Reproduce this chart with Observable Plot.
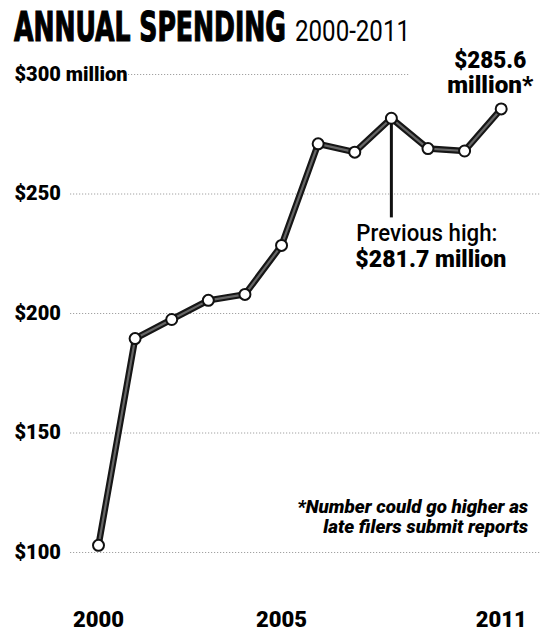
<!DOCTYPE html>
<html>
<head>
<meta charset="utf-8">
<script src="https://cdn.jsdelivr.net/npm/d3@7"></script>
<script src="https://cdn.jsdelivr.net/npm/@observablehq/plot@0.6"></script>
<style>
  html, body { margin: 0; padding: 0; background: white; }
  #header { position: relative; width: 541px; height: 50px; }
  #header span { position: absolute; white-space: nowrap; line-height: 1; transform-origin: 0 0; color: black; }
  #t1 { left: 14px; top: 7px; font-family: "DejaVu Sans Condensed", "DejaVu Sans", sans-serif; font-weight: 900; font-size: 41px; -webkit-text-stroke: 1.2px black; }
  #t2 { left: 295px; top: 17px; font-family: Roboto, "Noto Sans", sans-serif; font-weight: 400; font-size: 29px; }
</style>
</head>
<body>
<div id="header"><span id="t1">ANNUAL SPENDING</span><span id="t2">2000-2011</span></div>
<div id="chart"></div>
<script>
const years = [2000, 2001, 2002, 2003, 2004, 2005, 2006, 2007, 2008, 2009, 2010, 2011];
const spending = [103, 189.5, 197.5, 205.5, 208, 228.5, 271, 267.5, 281.7, 269, 268, 285.6];
const yTicks = [100, 150, 200, 250, 300];
const xTicks = [2000, 2005, 2011];
const highYear = 2008;
const highValue = 281.7;
const leaderEnd = 240;
const latestLabel = ["$285.6", "million*"];
const highLabel = ["Previous high:", "$281.7 million"];
const footnote = ["*Number could go higher as", "late filers submit reports"];

const data = years.map((year, i) => ({year, value: spending[i]}));
const latest = [data[data.length - 1]];
const high = [{year: highYear, value: highValue, end: leaderEnd}];

const fmtY = d => d === 300 ? "$300 million" : "$" + d;

const chart = Plot.plot({
  width: 541,
  height: 583,
  marginTop: 24,
  marginBottom: 81,
  marginLeft: 98,
  marginRight: 40.3,
  x: {domain: [2000, 2011]},
  y: {domain: [100, 300]},
  style: {fontFamily: "Roboto, 'Noto Sans', sans-serif", background: "white", color: "black", overflow: "visible"},
  marks: [
    Plot.ruleY(yTicks.filter(d => d < 300), {stroke: "#8a8a8a", strokeWidth: 0.8, strokeDasharray: "1.2,1.8", insetLeft: -28, insetRight: -41}),
    Plot.ruleY(yTicks.filter(d => d === 300), {stroke: "#8a8a8a", strokeWidth: 0.8, strokeDasharray: "1.2,1.8", insetLeft: 30, insetRight: 91}),
    Plot.axisY({ticks: yTicks, tickSize: 0, tickPadding: 0, textAnchor: "start", dx: -84, fontSize: 20, fontWeight: 900, tickFormat: fmtY, label: null}),
    Plot.axisX({ticks: xTicks, tickSize: 0, tickPadding: 59, fontSize: 22, fontWeight: 900, tickFormat: d => String(d), label: null}),
    Plot.ruleX(high, {x: "year", y1: "value", y2: "end", stroke: "#111", strokeWidth: 3}),
    Plot.line(data, {x: "year", y: "value", stroke: "#161616", strokeWidth: 6.5, strokeLinejoin: "round"}),
    Plot.line(data, {x: "year", y: "value", stroke: "#666", strokeWidth: 2.2, strokeLinejoin: "round"}),
    Plot.dot(data, {x: "year", y: "value", r: 5.5, fill: "white", stroke: "#111", strokeWidth: 2}),
    Plot.text(high, {x: "year", y: "end", text: () => highLabel[0], textAnchor: "start", lineAnchor: "top", dx: -35, dy: 7, fontSize: 23, fontWeight: 500}),
    Plot.text(high, {x: "year", y: "end", text: () => highLabel[1], textAnchor: "start", lineAnchor: "top", dx: -36, dy: 33, fontSize: 23, fontWeight: 900}),
    Plot.text(latest, {x: "year", y: "value", text: () => latestLabel[0], textAnchor: "middle", lineAnchor: "top", dx: -11, dy: -57, fontSize: 23, fontWeight: 900}),
    Plot.text(latest, {x: "year", y: "value", text: () => latestLabel[1], textAnchor: "middle", lineAnchor: "top", dx: -11, dy: -32, fontSize: 23, fontWeight: 900}),
    Plot.text([footnote[0]], {frameAnchor: "bottom-right", text: d => d, textAnchor: "end", lineAnchor: "top", dx: 27, dy: -52, fontSize: 18, fontWeight: 900, fontStyle: "italic"}),
    Plot.text([footnote[1]], {frameAnchor: "bottom-right", text: d => d, textAnchor: "end", lineAnchor: "top", dx: 27, dy: -32, fontSize: 18, fontWeight: 900, fontStyle: "italic"})
  ]
});
document.getElementById("chart").appendChild(chart);

// Condense text to the measured widths of the reference
const widths = new Map([
  [highLabel[0], 141],
  [highLabel[1], 151],
  [latestLabel[0], 72],
  [latestLabel[1], 86],
  [footnote[0], 231],
  [footnote[1], 205]
]);
d3.select(chart).selectAll("text").each(function() {
  const w = widths.get(this.textContent);
  if (w) {
    this.setAttribute("textLength", w);
    this.setAttribute("lengthAdjust", "spacingAndGlyphs");
  }
});

function fitSpan(id, w) {
  const el = document.getElementById(id);
  const actual = el.getBoundingClientRect().width;
  el.style.transform = `scaleX(${w / actual})`;
}
fitSpan("t1", 272);
fitSpan("t2", 115);
</script>
</body>
</html>
